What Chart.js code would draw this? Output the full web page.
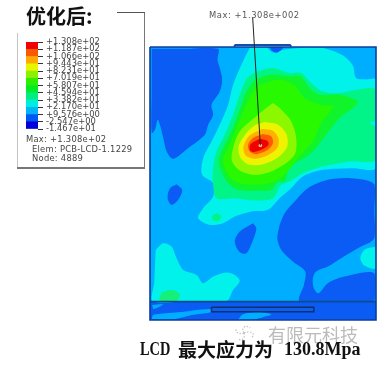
<!DOCTYPE html>
<html><head><meta charset="utf-8">
<script src="https://cdn.jsdelivr.net/npm/chart.js@4"></script>
<style>
html,body{margin:0;padding:0;background:#fff}
#stage{position:relative;width:380px;height:366px;overflow:hidden;background:#fff}
canvas{position:absolute}
#main{left:0;top:0;filter:blur(.7px)}
#bar{left:0;top:34px;filter:blur(.25px)}
.t{position:absolute;white-space:nowrap;line-height:1}
.s{font-family:"DejaVu Sans";font-size:8.4px;color:#444;letter-spacing:.25px;filter:blur(.25px)}
.l{position:absolute}
</style></head><body><div id="stage">
<canvas id="main" width="380" height="366"></canvas>
<canvas id="bar" width="110" height="105"></canvas>
<div class="l" style="left:17px;top:33px;width:1px;height:135px;background:#c4c4c4"></div>
<div class="l" style="left:17px;top:167px;width:128px;height:2px;background:#777"></div>
<div class="l" style="left:144px;top:12px;width:1px;height:156px;background:#777"></div>
<div class="l" style="left:117px;top:12px;width:28px;height:1px;background:#555"></div>
<div class="t" style="left:26px;top:6px;font:bold 20px/1 'Noto Sans CJK SC';color:#111">优化后:</div>
<div class="t s" style="left:26px;top:135px">Max: +1.308e+02</div>
<div class="t s" style="left:32px;top:145px">Elem: PCB-LCD-1.1229</div>
<div class="t s" style="left:32px;top:154px">Node: 4889</div>
<div class="t s" style="left:209px;top:11px;letter-spacing:.55px;color:#555">Max: +1.308e+002</div>
<svg class="l" style="left:232px;top:324px" width="26" height="20" fill="none" stroke="#c2c2c2" stroke-width="1.2" stroke-dasharray="1.5 1.5"><path d="M12 9C8 2 16 1 18 4M12 9C19 6 24 10 20 13M12 9C14 15 8 18 6 14M12 9C6 11 2 7 5 4"/></svg>
<div class="t" style="left:268px;top:325px;font:18px/1 'Noto Sans CJK SC';color:#b0b0b0;opacity:.85">有限元科技</div>
<div class="t" style="left:140px;top:340px;font:bold 18px/1 'Liberation Serif';color:#111;transform:scaleX(.8);transform-origin:left">LCD</div>
<div class="t" style="left:178px;top:339px;font:bold 19px/1 'Noto Sans CJK SC';color:#111">最大应力为</div>
<div class="t" style="left:284px;top:340px;font:bold 18px/1 'Liberation Serif';color:#111">130.8Mpa</div>
</div>
<script>
// Stress legend (MPa), top to bottom
const legendTicks=["+1.308e+02","+1.187e+02","+1.066e+02","+9.443e+01","+8.231e+01","+7.019e+01","+5.807e+01","+4.594e+01","+3.382e+01","+2.170e+01","+9.576e+00","-2.547e+00","-1.467e+01"];
const legendColors=["#f00000","#f85a00","#ffa800","#e8f400","#8cf000","#2eee00","#00ec28","#00ee80","#00eedc","#00b4f8","#0058f4","#0000d8"];

// Contour bands on the plate, model units
const plateUpper=[[15,37],[695,37],[695,800],[15,800],[15,37]];
const plateLower=[[15,800],[695,800],[695,855],[15,855],[15,800]];
const lowBlueA=[[20,42],[120,42],[220,42],[218,75],[225,100],[232,135],[225,170],[200,210],[205,240],[190,270],[180,300],[130,340],[85,372],[65,350],[55,310],[45,270],[38,255],[30,285],[20,295],[20,170]];
const lowBlueB=[[375,37],[415,37],[408,48],[395,53],[382,48]];
const lowBlueC=[[405,570],[420,535],[450,500],[490,460],[550,435],[620,430],[690,448],[690,530],[690,610],[640,640],[590,670],[550,695],[515,710],[505,730],[508,760],[522,775],[550,745],[600,725],[690,715],[690,798],[580,798],[465,798],[478,750],[482,710],[445,680],[410,645],[398,610]];
const lowBlueD=[[95,448],[112,465],[100,495],[80,510],[68,490],[75,460]];
const lowBlueE=[[325,565],[335,580],[325,615],[305,655],[285,652],[270,620],[285,590]];
const cyanMain=[[315,40],[365,38],[378,50],[395,56],[412,46],[470,40],[520,40],[545,42],[595,62],[625,92],[635,130],[665,134],[695,135],[695,270],[695,400],[625,400],[535,405],[475,425],[435,465],[405,490],[370,525],[320,530],[270,545],[235,565],[195,570],[160,550],[175,520],[205,485],[205,445],[172,420],[175,370],[200,320],[225,270],[250,210],[265,150],[290,90]];
const cyanLeft=[[32,645],[55,625],[80,635],[95,670],[115,705],[155,720],[175,745],[205,725],[245,713],[270,720],[285,738],[265,765],[245,798],[130,798],[22,798],[28,740],[30,690]];
const cyanRight=[[695,635],[660,645],[648,670],[660,692],[695,700]];
const mintMain=[[305,130],[340,110],[385,100],[435,115],[470,115],[495,140],[535,170],[585,175],[635,165],[695,165],[695,255],[678,265],[695,278],[695,375],[615,380],[535,395],[475,415],[435,440],[410,450],[385,490],[330,497],[270,490],[215,490],[205,450],[205,400],[215,350],[240,300],[265,240],[285,180]];
const mintSpotA=[[50,772],[80,765],[105,778],[95,798],[45,798]];
const mintSpotB=[[200,545],[215,535],[230,545],[220,558],[205,557]];
const greenOuter=[[330,135],[375,120],[435,125],[468,125],[495,160],[525,180],[585,180],[640,200],[625,220],[585,250],[545,300],[505,350],[470,375],[435,395],[420,440],[400,440],[380,465],[340,468],[280,465],[250,445],[235,420],[222,380],[235,340],[260,290],[285,225],[305,170]];
const greenInner=[[345,150],[400,135],[450,150],[480,190],[530,210],[565,215],[530,265],[505,320],[460,370],[425,415],[390,440],[330,450],[270,440],[245,410],[235,375],[250,340],[275,280],[300,220],[325,170]];
const limeBand=[[385,205],[405,220],[440,260],[455,310],[450,360],[400,400],[340,420],[290,410],[262,380],[265,340],[285,290],[340,240],[365,220]];
const yellowBand=[[360,262],[400,270],[425,298],[428,335],[400,368],[355,388],[315,390],[288,370],[282,335],[305,295],[330,272]];
const amberBand=[[352,283],[385,288],[402,312],[398,340],[368,362],[330,372],[303,362],[296,338],[312,305]];
const orangeBand=[[355,298],[380,305],[385,325],[370,345],[335,358],[315,350],[310,330],[325,310]];
const redBand=[[345,312],[368,318],[372,330],[350,345],[325,352],[315,345],[318,328]];
const maxSpot=[[347,332]];
const lightLowA=[[22,810],[55,808],[40,817],[25,822]];
const lightLowB=[[20,852],[25,840],[100,832],[195,822],[205,830],[140,840],[90,852]];
const lightLowC=[[280,854],[295,838],[340,832],[380,838],[350,848],[320,854]];
const slotShape=[[200,817],[508,817],[508,830],[200,830],[200,817]];
const tabLine=[[268,36],[272,31],[436,31],[440,36]];
const leaderLine=[[324,-51],[347,332]];
const dividerLine=[[15,800],[695,800]];

const band=(pts,color,tension=0.3)=>({data:[...pts,pts[0]].map(p=>({x:p[0],y:p[1]})),backgroundColor:color,borderColor:color,borderWidth:0,fill:'shape',showLine:true,pointRadius:0,tension});
const line=(pts,color,w,clip=true)=>({data:pts.map(p=>({x:p[0],y:p[1]})),borderColor:color,borderWidth:w,fill:false,showLine:true,pointRadius:0,tension:0,clip:clip?undefined:false});
const SKY="#00aeff",BLUE="#0a5cf4",CY="#00f2ea",MINT="#00f488",G1="#10f42c",G2="#28f800",LIME="#8cf800";
const slotDs=band(slotShape,"#0a60f0",0);slotDs.borderColor="#10306a";slotDs.borderWidth=1.5;
const frameDs=line([[15,37],[695,37],[695,855],[15,855],[15,37]],"#0c3e9c",1.6);frameDs.clip=false;
const layers=[
 line(tabLine,"#1050b0",2,false),
 band(plateUpper,SKY,0),band(plateLower,BLUE,0),
 band(lowBlueA,BLUE),band(lowBlueB,BLUE),band(lowBlueC,BLUE),band(lowBlueD,BLUE),band(lowBlueE,BLUE),
 band(cyanMain,CY),band(cyanLeft,CY),band(cyanRight,CY),
 band(mintMain,MINT),band(mintSpotA,"#14f078"),band(mintSpotB,MINT),
 band(greenOuter,G1),band(greenInner,G2),band(limeBand,LIME),band(yellowBand,"#eef400"),
 band(amberBand,"#ffb000"),band(orangeBand,"#ff5a00"),band(redBand,"#f20000"),
 {data:maxSpot.map(p=>({x:p[0],y:p[1]})),pointRadius:1.8,pointBackgroundColor:"#ffc090",pointBorderWidth:0},
 band(lightLowA,SKY),band(lightLowB,SKY),band(lightLowC,SKY),
 slotDs,line(dividerLine,"#0c4c8c",1.8),frameDs,line(leaderLine,"#222222",1,false)
];
layers.forEach((d,i)=>{d.order=layers.length-i});
new Chart(document.getElementById('main'),{type:'scatter',data:{datasets:layers},options:{
 responsive:false,animation:false,events:[],
 layout:{padding:{left:150,top:47,right:3,bottom:46}},
 plugins:{legend:{display:false},tooltip:{enabled:false}},
 scales:{x:{type:'linear',display:false,min:15,max:695},y:{type:'linear',display:false,min:37,max:855,reverse:true}}
}});

const ones=legendColors.map(()=>1);
new Chart(document.getElementById('bar'),{type:'bar',data:{labels:[''],datasets:[...legendColors].reverse().map((c,i)=>({data:[ones[i]],backgroundColor:c,barPercentage:1,categoryPercentage:1,stack:'s'}))},options:{
 responsive:false,animation:false,events:[],
 layout:{padding:{left:26,top:8,right:0,bottom:10}},
 plugins:{legend:{display:false},tooltip:{enabled:false}},
 scales:{x:{display:false,stacked:true},y:{stacked:true,position:'right',min:0,max:12,
  afterFit(s){s.width=72},
  border:{display:false},
  grid:{drawOnChartArea:false,drawTicks:true,tickLength:5,tickColor:'#333'},
  ticks:{stepSize:1,autoSkip:false,padding:3,maxRotation:0,color:'#444',font:{family:'DejaVu Sans',size:8.4},callback:v=>legendTicks[12-v]}}}
}});
</script></body></html>
